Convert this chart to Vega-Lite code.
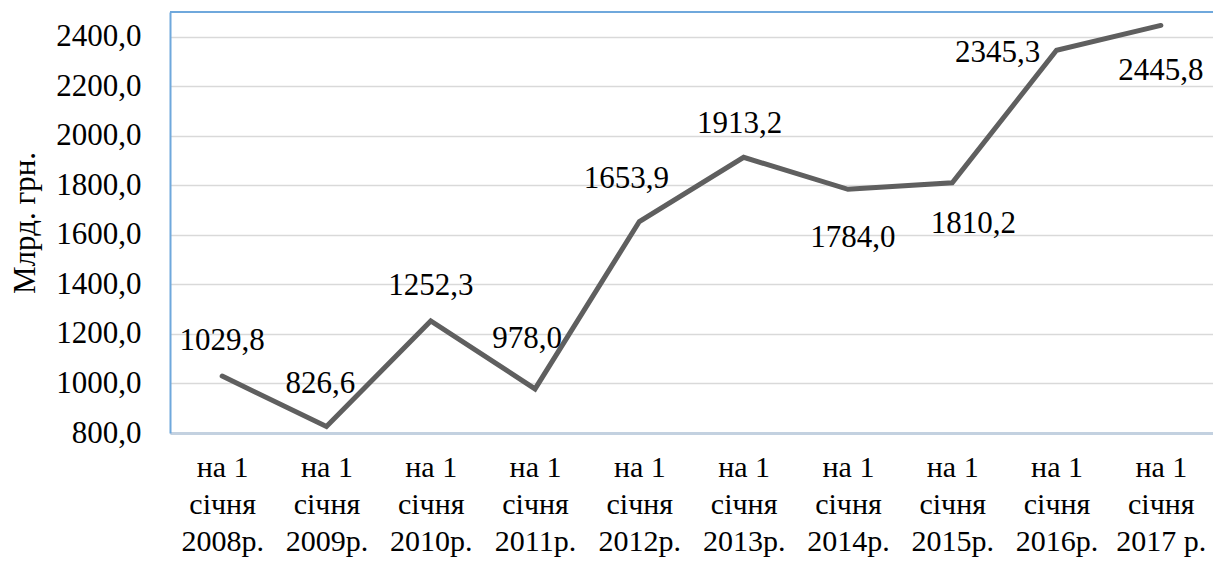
{
  "$schema": "https://vega.github.io/schema/vega-lite/v6.json",
  "autosize": {"type": "none"},
  "padding": {"left": 170, "top": 12, "right": 0, "bottom": 128},
  "width": 1043,
  "height": 421,
  "background": "white",
  "config": {
    "locale": {"number": {"decimal": ",", "thousands": " ", "grouping": [3], "currency": ["", ""]}},
    "view": {"stroke": null}
  },
  "data": {
    "values": [
      {"date": "на 1 січня 2008р.", "value": 1029.8},
      {"date": "на 1 січня 2009р.", "value": 826.6},
      {"date": "на 1 січня 2010р.", "value": 1252.3},
      {"date": "на 1 січня 2011р.", "value": 978.0},
      {"date": "на 1 січня 2012р.", "value": 1653.9},
      {"date": "на 1 січня 2013р.", "value": 1913.2},
      {"date": "на 1 січня 2014р.", "value": 1784.0},
      {"date": "на 1 січня 2015р.", "value": 1810.2},
      {"date": "на 1 січня 2016р.", "value": 2345.3},
      {"date": "на 1 січня 2017 р.", "value": 2445.8}
    ]
  },
  "encoding": {
    "x": {
      "field": "date", "type": "ordinal", "sort": null,
      "scale": {"type": "point", "padding": 0.5},
      "axis": {
        "title": null, "labelAngle": 0, "ticks": false, "grid": false,
        "domain": true, "domainColor": "#c3d1e0", "domainWidth": 3,
        "labelFont": "Liberation Serif", "labelFontSize": 30, "labelColor": "#000000",
        "labelBaseline": "top", "labelPadding": 19, "labelLineHeight": 37,
        "labelExpr": "['на 1', 'січня', slice(datum.label, 11)]"
      }
    },
    "y": {
      "field": "value", "type": "quantitative",
      "scale": {"domain": [800, 2500], "nice": false, "zero": false},
      "axis": {
        "title": "Млрд. грн.", "values": [800, 1000, 1200, 1400, 1600, 1800, 2000, 2200, 2400],
        "format": ".1f", "ticks": false,
        "domain": true, "domainColor": "#6fa8dc", "domainWidth": 2,
        "gridColor": "#d9d9d9", "gridWidth": 1.5,
        "labelFont": "Liberation Serif", "labelFontSize": 31, "labelColor": "#000000", "labelPadding": 29,
        "titleFont": "Liberation Serif", "titleFontSize": 31, "titleFontWeight": "normal", "titleColor": "#000000",
        "titlePadding": 14
      }
    }
  },
  "layer": [
    {"mark": {"type": "rule", "color": "#6fa8dc", "strokeWidth": 2},
     "encoding": {"x": null, "y": {"datum": 2500}}},
    {"mark": {"type": "line", "color": "#5f5f5f", "strokeWidth": 5, "strokeCap": "round", "strokeJoin": "miter"}},
    {"transform": [{"filter": "datum.value == 1029.8 || datum.value == 1252.3"}],
     "mark": {"type": "text", "font": "Liberation Serif", "fontSize": 31, "color": "#000000", "dy": -35},
     "encoding": {"text": {"field": "value", "format": ".1f"}}},
    {"transform": [{"filter": "datum.value == 826.6"}],
     "mark": {"type": "text", "font": "Liberation Serif", "fontSize": 31, "color": "#000000", "dx": -6, "dy": -42},
     "encoding": {"text": {"field": "value", "format": ".1f"}}},
    {"transform": [{"filter": "datum.value == 978.0"}],
     "mark": {"type": "text", "font": "Liberation Serif", "fontSize": 31, "color": "#000000", "dx": -8, "dy": -50},
     "encoding": {"text": {"field": "value", "format": ".1f"}}},
    {"transform": [{"filter": "datum.value == 1653.9"}],
     "mark": {"type": "text", "font": "Liberation Serif", "fontSize": 31, "color": "#000000", "dx": -13, "dy": -43},
     "encoding": {"text": {"field": "value", "format": ".1f"}}},
    {"transform": [{"filter": "datum.value == 1913.2"}],
     "mark": {"type": "text", "font": "Liberation Serif", "fontSize": 31, "color": "#000000", "dx": -4, "dy": -33},
     "encoding": {"text": {"field": "value", "format": ".1f"}}},
    {"transform": [{"filter": "datum.value == 1784.0"}],
     "mark": {"type": "text", "font": "Liberation Serif", "fontSize": 31, "color": "#000000", "dx": 5, "dy": 49},
     "encoding": {"text": {"field": "value", "format": ".1f"}}},
    {"transform": [{"filter": "datum.value == 1810.2"}],
     "mark": {"type": "text", "font": "Liberation Serif", "fontSize": 31, "color": "#000000", "dx": 21, "dy": 41},
     "encoding": {"text": {"field": "value", "format": ".1f"}}},
    {"transform": [{"filter": "datum.value == 2345.3"}],
     "mark": {"type": "text", "font": "Liberation Serif", "fontSize": 31, "color": "#000000", "dx": -59, "dy": 3},
     "encoding": {"text": {"field": "value", "format": ".1f"}}},
    {"transform": [{"filter": "datum.value == 2445.8"}],
     "mark": {"type": "text", "font": "Liberation Serif", "fontSize": 31, "color": "#000000", "dx": 0, "dy": 46},
     "encoding": {"text": {"field": "value", "format": ".1f"}}}
  ]
}
